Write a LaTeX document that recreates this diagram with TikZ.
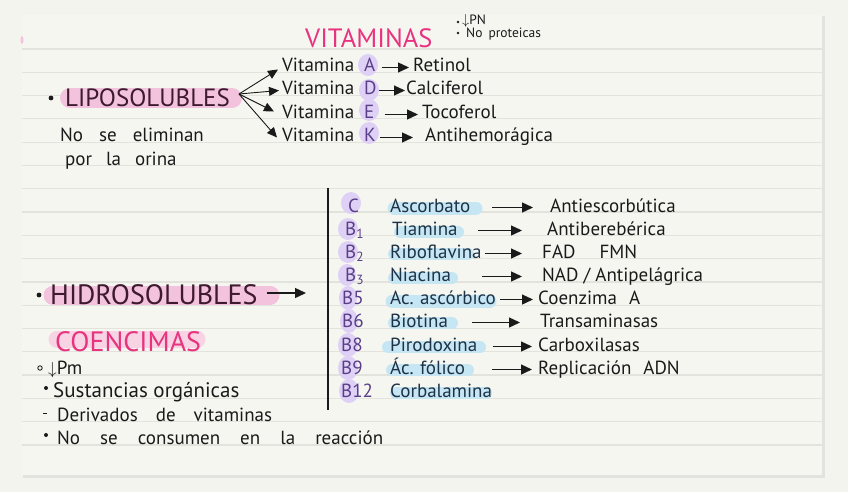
\documentclass[tikz,border=0pt]{standalone}
\usepackage{fontspec}
\setmainfont{PT Sans}
\usetikzlibrary{arrows.meta}

\definecolor{deskbg}{HTML}{F4F4EF}
\definecolor{paperbg}{HTML}{F6F6F1}
\definecolor{paperedge}{HTML}{E2E2DE}
\definecolor{ruleline}{HTML}{E3E3DD}
\definecolor{hlPink}{HTML}{F3C2DC}
\definecolor{hlPinkSoft}{HTML}{F7D3E4}
\definecolor{hlPurple}{HTML}{DED1F5}
\definecolor{hlBlue}{HTML}{C6E6F3}
\definecolor{inkPink}{HTML}{E8347F}
\definecolor{inkPlum}{HTML}{3E1A30}
\definecolor{inkViolet}{HTML}{5A3E88}
\definecolor{inkNavy}{HTML}{1D3246}
\definecolor{ink}{HTML}{1A1A1A}

\newcommand{\wordgap}[1]{\spaceskip #1pt plus 1pt\relax}

\tikzset{
  note/.style={inner sep=0pt, anchor=base west, text=ink,
    font=\fontsize{19}{19}\selectfont, text height=13pt, text depth=4pt},
  widenote/.style={note, font=\fontsize{19}{19}\selectfont\wordgap{#1}},
  tinynote/.style={note, font=\fontsize{13.5}{13.5}\selectfont\wordgap{6},
    text height=8pt, text depth=2pt},
  letter/.style={note, text=inkViolet},
  vname/.style={note, text=inkNavy, text width=#1, align=left},
  title/.style={inner sep=0pt, anchor=base west, text=inkPink,
    font=\fontsize{26.5}{26.5}\selectfont, text height=18pt, text depth=0pt},
  caps/.style={title, text=inkPlum},
  arr/.style={-{Triangle[length=11pt,width=10pt]}, line width=1.3pt, draw=ink},
  fan/.style={-{Triangle[length=10pt,width=9pt]}, line width=0.9pt, draw=ink},
  marker/.style={line cap=round, line width=#1},
}

\begin{document}
\begin{tikzpicture}[x=1pt, y=-1pt]
\def\rowgap{23.29}
\useasboundingbox (0,0) rectangle (848,492);
\fill[deskbg] (0,0) rectangle (848,492);
% Paper sheet, thin shadow on right and bottom
\fill[paperedge] (23,16) rectangle (825,478);
\fill[paperbg] (22,15) rectangle (822,475);
% Ruled lines
\foreach \k in {0,...,17}
  \draw[ruleline, line width=1.2pt] (22,{49+\rowgap*\k}) -- (822,{49+\rowgap*\k});
\fill[hlPink] (22,40) ellipse (1.5 and 4);

% Highlighter strokes (under the ink)
\draw[marker=20pt, hlPink] (70,98) -- (232,98);
\draw[marker=19pt, hlPink] (53,295) -- (270,295);
\draw[marker=17pt, hlPinkSoft] (57,339) -- (197,339);
\begin{scope}[fill=hlPurple]
  \fill (368,65) ellipse (10 and 11);
  \fill (369,90) ellipse (10 and 11);
  \fill (369,110) ellipse (10 and 11);
  \fill (369,133) ellipse (10 and 11);
  \fill (351,203) ellipse (10 and 11);
  \fill (348,229) ellipse (10 and 11);
  \fill (348,252) ellipse (10 and 11);
  \fill (347,275) ellipse (9 and 11);
  \fill (348,298) ellipse (9 and 12);
  \fill (349,321) ellipse (9 and 12);
  \fill (348,345) ellipse (10 and 12);
  \fill (348,368) ellipse (10 and 12);
  \fill (349,391) ellipse (10 and 12);
\end{scope}
\begin{scope}[draw=hlBlue]
  \draw[marker=13pt] (394,208) -- (476,208);
  \draw[marker=12pt] (400,232) -- (458,232);
  \draw[marker=12pt] (394,254) -- (468,254);
  \draw[marker=12pt] (394,278) -- (452,278);
  \draw[marker=13pt] (392,301) -- (490,301);
  \draw[marker=12pt] (394,323) -- (452,323);
  \draw[marker=12pt] (388,347) -- (480,347);
  \draw[marker=12pt] (392,370) -- (468,370);
  \draw[marker=12pt] (396,393) -- (486,393);
\end{scope}

% Vitaminas (top)
\node[title] (vitaminas) at (305,48) {VITAMINAS};
\fill[ink] (458,22) circle (1.3);
\node[tinynote] (lowpn) at (462,25) {$\downarrow$PN};
\fill[ink] (458,33) circle (1.3);
\node[tinynote] (noprot) at (466,38) {No proteicas};

% Liposolubles
\fill[ink] (51,98) circle (2.4);
\node[caps, font=\fontsize{25}{25}\selectfont] (lipo) at (65,107) {LIPOSOLUBLES};
\coordinate (fanroot) at (239,94);
\node[widenote=16] (noelim) at (60,142) {No se eliminan};
\node[widenote=14] (orina) at (65,165) {por la orina};

\node[note] (vitA) at (282,72) {Vitamina};
\node[letter] (letA) at (364,72) {A};
\node[note] (retinol) at (413,72) {Retinol};
\node[note] (vitD) at (282,95) {Vitamina};
\node[letter] (letD) at (364,95) {D};
\node[note] (calci) at (406,95) {Calciferol};
\node[note] (vitE) at (282,119) {Vitamina};
\node[letter] (letE) at (364,119) {E};
\node[note] (toco) at (422,119) {Tocoferol};
\node[note] (vitK) at (282,142) {Vitamina};
\node[letter] (letK) at (364,142) {K};
\node[note] (antihem) at (425,142) {Antihemorágica};

\draw[fan] (fanroot) -- ([xshift=-4pt,yshift=-2pt]vitA.west);
\draw[fan] (fanroot) -- ([xshift=-3pt]vitD.west);
\draw[fan] (fanroot) -- ([xshift=-8pt,yshift=3pt]vitE.west);
\draw[fan] (fanroot) -- ([xshift=-5pt]vitK.west);
\draw[arr] ([xshift=6pt]letA.east) -- ([xshift=-4pt]retinol.west);
\draw[arr] ([xshift=2pt]letD.east) -- ([xshift=-1pt]calci.west);
\draw[arr] ([xshift=10pt]letE.east) -- ([xshift=-4pt]toco.west);
\draw[arr] ([xshift=4pt]letK.east) -- ([xshift=-12pt]antihem.west);

% Hidrosolubles
\fill[ink] (39,295) circle (2.4);
\node[caps, font=\fontsize{28}{28}\selectfont] (hidro) at (50,304) {HIDROSOLUBLES};
\coordinate (hidrotip) at (306,293);
\draw[arr] ([xshift=9pt,yshift=2pt]hidro.east) -- (hidrotip);
\draw[ink, line width=1.2pt] (328,188) -- (328,410);

\node[letter] (bC) at (348,212) {C};
\node[letter] (b1) at (345,235) {B\textsubscript{1}};
\node[letter] (b2) at (345,258) {B\textsubscript{2}};
\node[letter] (b3) at (345,281) {B\textsubscript{3}};
\node[letter] (b5) at (342,304) {B5};
\node[letter] (b6) at (342,327) {B6};
\node[letter] (b8) at (341,351) {B8};
\node[letter] (b9) at (341,374) {B9};
\node[letter] (b12) at (341,397) {B12};

\node[vname=90pt] (ascorb) at (390,212) {Ascorbato};
\node[vname=68pt] (tiam) at (392,235) {Tiamina};
\node[vname=92pt] (ribo) at (390,258) {Riboflavina};
\node[vname=65pt] (niac) at (390,281) {Niacina};
\node[vname=106pt] (acasc) at (390,304) {Ac.~ascórbico};
\node[vname=57pt] (biot) at (390,327) {Biotina};
\node[vname=93pt] (pirod) at (390,351) {Pirodoxina};
\node[vname=82pt] (folico) at (390,374) {Ác.~fólico};
\node[vname=100pt] (cobal) at (390,397) {Corbalamina};

\node[note] (antiesc) at (550,212) {Antiescorbútica};
\node[note] (antiber) at (547,235) {Antiberebérica};
\node[widenote=24] (fadfmn) at (542,258) {FAD FMN};
\node[note] (nad) at (542,281) {NAD / Antipelágrica};
\node[widenote=12] (coenz) at (538,304) {Coenzima A};
\node[note] (transam) at (540,327) {Transaminasas};
\node[note] (carbox) at (538,351) {Carboxilasas};
\node[widenote=12] (replic) at (538,374) {Replicación ADN};

\draw[arr] ([xshift=12pt]ascorb.east) -- ([xshift=-17pt]antiesc.west);
\draw[arr] ([xshift=18pt]tiam.east) -- ([xshift=-25pt]antiber.west);
\draw[arr] ([xshift=3pt]ribo.east) -- ([xshift=-20pt]fadfmn.west);
\draw[arr] ([xshift=27pt]niac.east) -- ([xshift=-20pt]nad.west);
\draw[arr] ([xshift=4pt]acasc.east) -- ([xshift=-5pt]coenz.west);
\draw[arr] ([xshift=25pt]biot.east) -- ([xshift=-20pt]transam.west);
\draw[arr] ([xshift=10pt]pirod.east) -- ([xshift=-6pt]carbox.west);
\draw[arr] ([xshift=20pt]folico.east) -- ([xshift=-6pt]replic.west);

% Coencimas
\node[title, font=\fontsize{28}{28}\selectfont] (coenc) at (55,351) {COENCIMAS};
\draw[ink, line width=0.9pt] (40,368) circle (2.2);
\node[note] (lowpm) at (48,374) {$\downarrow$Pm};
\fill[ink] (46,388) circle (2);
\node[note, font=\fontsize{21}{21}\selectfont] (sustan) at (53,397) {Sustancias orgánicas};
\draw[ink, line width=1pt] (43,413) -- (47,413);
\node[widenote=18] (deriv) at (57,421) {Derivados de vitaminas};
\fill[ink] (46,435) circle (2);
\node[widenote=20] (noconsum) at (57,444) {No se consumen en la reacción};
\end{tikzpicture}
\end{document}
